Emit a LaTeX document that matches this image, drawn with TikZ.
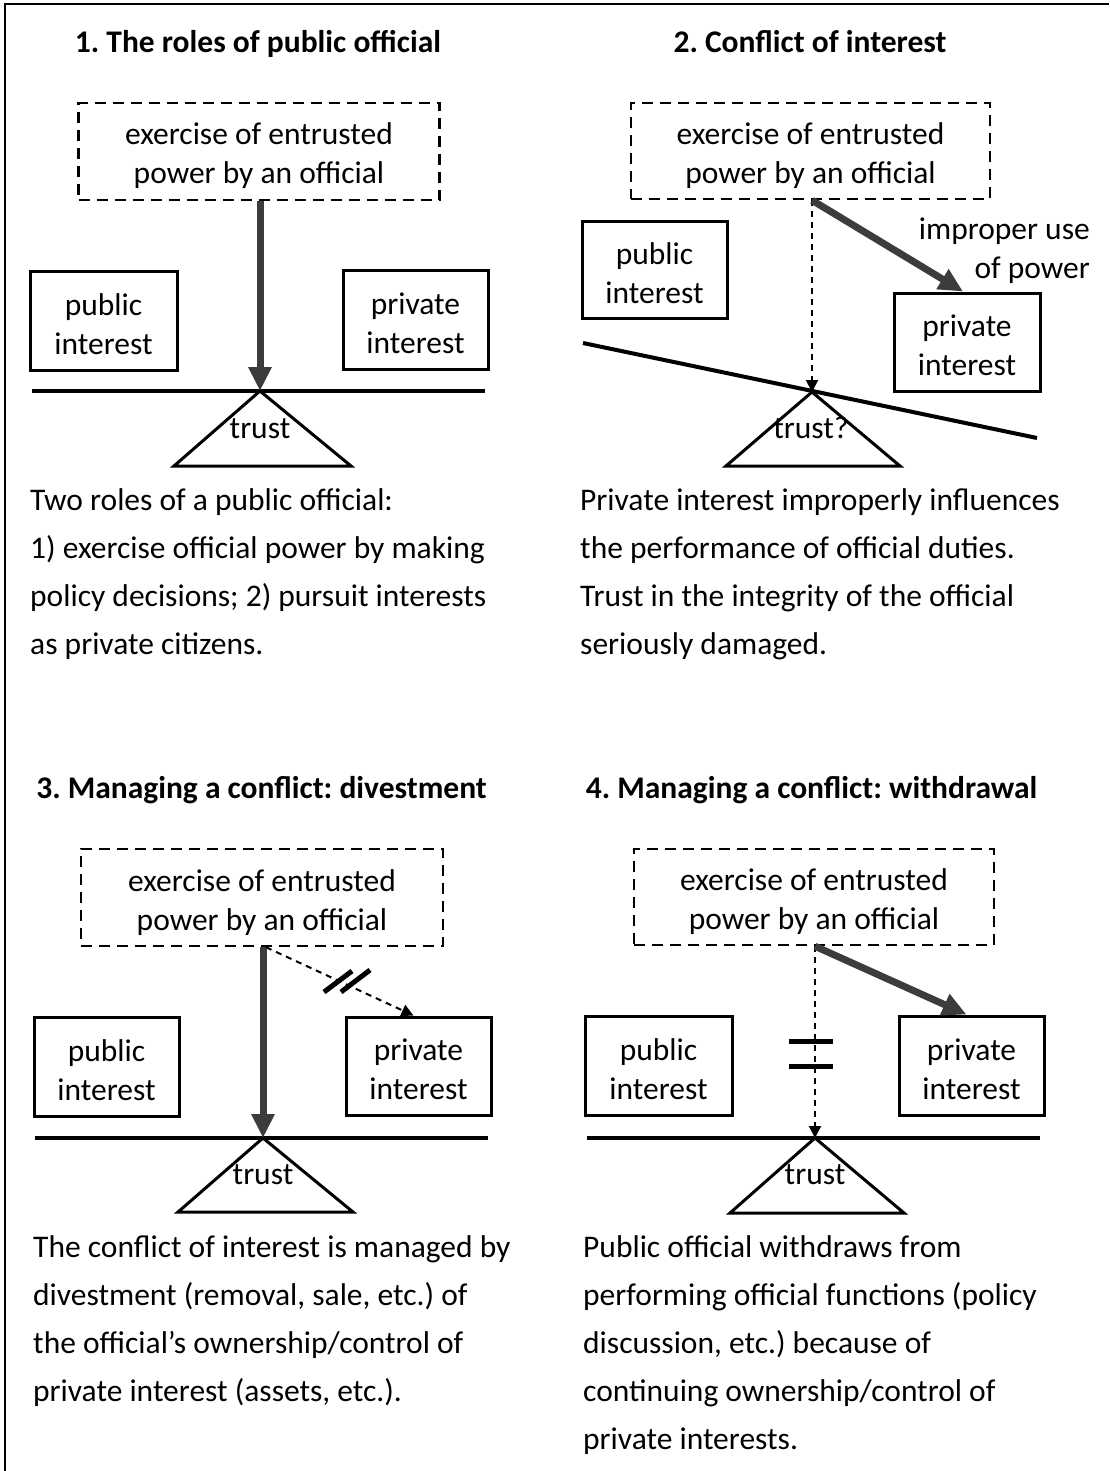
\documentclass[tikz,border=0pt]{standalone}
\usepackage{fontspec}
\setmainfont{Carlito}
\frenchspacing
\usetikzlibrary{arrows.meta,calc}
\definecolor{arrowgray}{RGB}{60,60,60}
\tikzset{
  txt/.style={font=\fontsize{31.5}{39}\selectfont\frenchspacing, align=center, inner sep=0pt},
  sbox/.style={draw, line width=3pt, txt, text height=67pt, text depth=0pt, minimum width=146pt, minimum height=98pt},
  dbox/.style={draw, line width=2.5pt, dash pattern=on 11pt off 7pt, txt, text height=65pt, text depth=0pt, minimum width=361pt, minimum height=97pt},
  title/.style={font=\bfseries\fontsize{31.5}{39}\selectfont\frenchspacing, anchor=base, inner sep=0pt},
  body/.style={font=\fontsize{31.5}{48}\selectfont\frenchspacing, align=left, anchor=base west, inner sep=0pt},
  label/.style={font=\fontsize{31.5}{39}\selectfont\frenchspacing, anchor=base, inner sep=0pt},
  bigarrow/.style={line width=7pt, draw=arrowgray, -{Triangle[length=24pt,width=22pt]}},
  dasharrow/.style={line width=2pt, dash pattern=on 6pt off 5pt, -{Triangle[length=12pt,width=12pt]}},
  beam/.style={line width=4pt},
  fulcrum/.style={line width=3pt, line join=miter},
  breakmark/.style={line width=5pt}
}
\begin{document}
\begin{tikzpicture}[x=1pt,y=-1pt]
\useasboundingbox (0,0) rectangle (1109,1471);
\fill[white] (0,0) rectangle (1109,1471);
\draw[line width=2pt] (5,1471) -- (5,4) -- (1109,4);

% ---------- Panel 1 ----------
\node[title] (t1) at (258,53) {1. The roles of public official};
\node[dbox] (d1) at (259,151.5) {exercise of entrusted\\power by an official};
\node[sbox, minimum width=147pt, minimum height=99pt] (pu1) at (103.5,320.5) {public\\interest};
\node[sbox, minimum width=145pt, minimum height=99pt] (pr1) at (415.5,319.5) {private\\interest};
\coordinate (a1) at (260,391);
\coordinate (bl1) at (32,391);
\coordinate (br1) at (485,391);
\coordinate (fl1) at (174,466);
\coordinate (fr1) at (351,466);
\draw[beam] (bl1) -- (br1);
\draw[fulcrum] (a1) -- (fl1) -- (fr1) -- cycle;
\node[label] (tr1) at (260,438) {trust};
\draw[bigarrow] (d1.south -| a1) -- (a1);
\node[body] (x1) at (30,654) {Two roles of a public official:\\1) exercise official power by making\\policy decisions; 2) pursuit interests\\as private citizens.};

% ---------- Panel 2 ----------
\node[title] (t2) at (810,53) {2. Conflict of interest};
\node[dbox, minimum width=359pt, minimum height=96pt] (d2) at (810.5,151) {exercise of entrusted\\power by an official};
\node[sbox, minimum width=145pt, minimum height=96pt] (pu2) at (654.5,270) {public\\interest};
\node[sbox, minimum width=146pt, minimum height=98pt] (pr2) at (967,342) {private\\interest};
\coordinate (a2) at (812,392);
\coordinate (bl2) at (583,343);
\coordinate (br2) at (1037,438);
\coordinate (fl2) at (726,466);
\coordinate (fr2) at (900,466);
\draw[beam] (bl2) -- (br2);
\draw[fulcrum] (a2) -- (fl2) -- (fr2) -- cycle;
\node[label] (tr2) at (811,438) {trust?};
\draw[dasharrow] (d2.south -| a2) -- (a2);
\draw[bigarrow] (d2.south -| a2) -- ($(pr2.north)+(-4,0)$);
\node[label, anchor=base east, align=right] (imp) at (1090,278) {improper use\\of power};
\node[body] (x2) at (580,654) {Private interest improperly influences\\the performance of official duties.\\Trust in the integrity of the official\\seriously damaged.};

% ---------- Panel 3 ----------
\node[title] (t3) at (261.5,798) {3. Managing a conflict: divestment};
\node[dbox, minimum width=362pt] (d3) at (262,897.5) {exercise of entrusted\\power by an official};
\node[sbox, minimum width=145pt, minimum height=99pt] (pu3) at (106.5,1066.5) {public\\interest};
\node[sbox, minimum width=145pt, minimum height=98pt] (pr3) at (418.5,1066) {private\\interest};
\coordinate (a3) at (263,1138);
\coordinate (bl3) at (35,1138);
\coordinate (br3) at (488,1138);
\coordinate (fl3) at (178,1212);
\coordinate (fr3) at (353,1212);
\draw[beam] (bl3) -- (br3);
\draw[fulcrum] (a3) -- (fl3) -- (fr3) -- cycle;
\node[label] (tr3) at (263,1184) {trust};
\draw[bigarrow] (d3.south -| a3) -- (a3);
\draw[dasharrow] ($(d3.south -| a3)+(3,0)$) -- ($(pr3.north)+(-5,0)$);
\draw[breakmark] (324,992) -- (352,971);
\draw[breakmark] (341,992) -- (370,970);
\node[body] (x3) at (33,1401) {The conflict of interest is managed by\\divestment (removal, sale, etc.) of\\the official’s ownership/control of\\private interest (assets, etc.).};

% ---------- Panel 4 ----------
\node[title] (t4) at (811.5,798) {4. Managing a conflict: withdrawal};
\node[dbox, minimum width=360pt, minimum height=96pt] (d4) at (814,897) {exercise of entrusted\\power by an official};
\node[sbox, minimum width=147pt, minimum height=99pt] (pu4) at (658.5,1065.5) {public\\interest};
\node[sbox, minimum width=145pt, minimum height=99pt] (pr4) at (971.5,1065.5) {private\\interest};
\coordinate (a4) at (815,1138);
\coordinate (bl4) at (587,1138);
\coordinate (br4) at (1040,1138);
\coordinate (fl4) at (730,1213);
\coordinate (fr4) at (904,1213);
\draw[beam] (bl4) -- (br4);
\draw[fulcrum] (a4) -- (fl4) -- (fr4) -- cycle;
\node[label] (tr4) at (815,1184) {trust};
\draw[dasharrow] (d4.south -| a4) -- (a4);
\draw[bigarrow] (d4.south -| a4) -- ($(pr4.north)+(-5,0)$);
\draw[breakmark] (789,1041) -- (833,1041);
\draw[breakmark] (789,1066) -- (833,1066);
\node[body] (x4) at (583,1449) {Public official withdraws from\\performing official functions (policy\\discussion, etc.) because of\\continuing ownership/control of\\private interests.};
\end{tikzpicture}
\end{document}
